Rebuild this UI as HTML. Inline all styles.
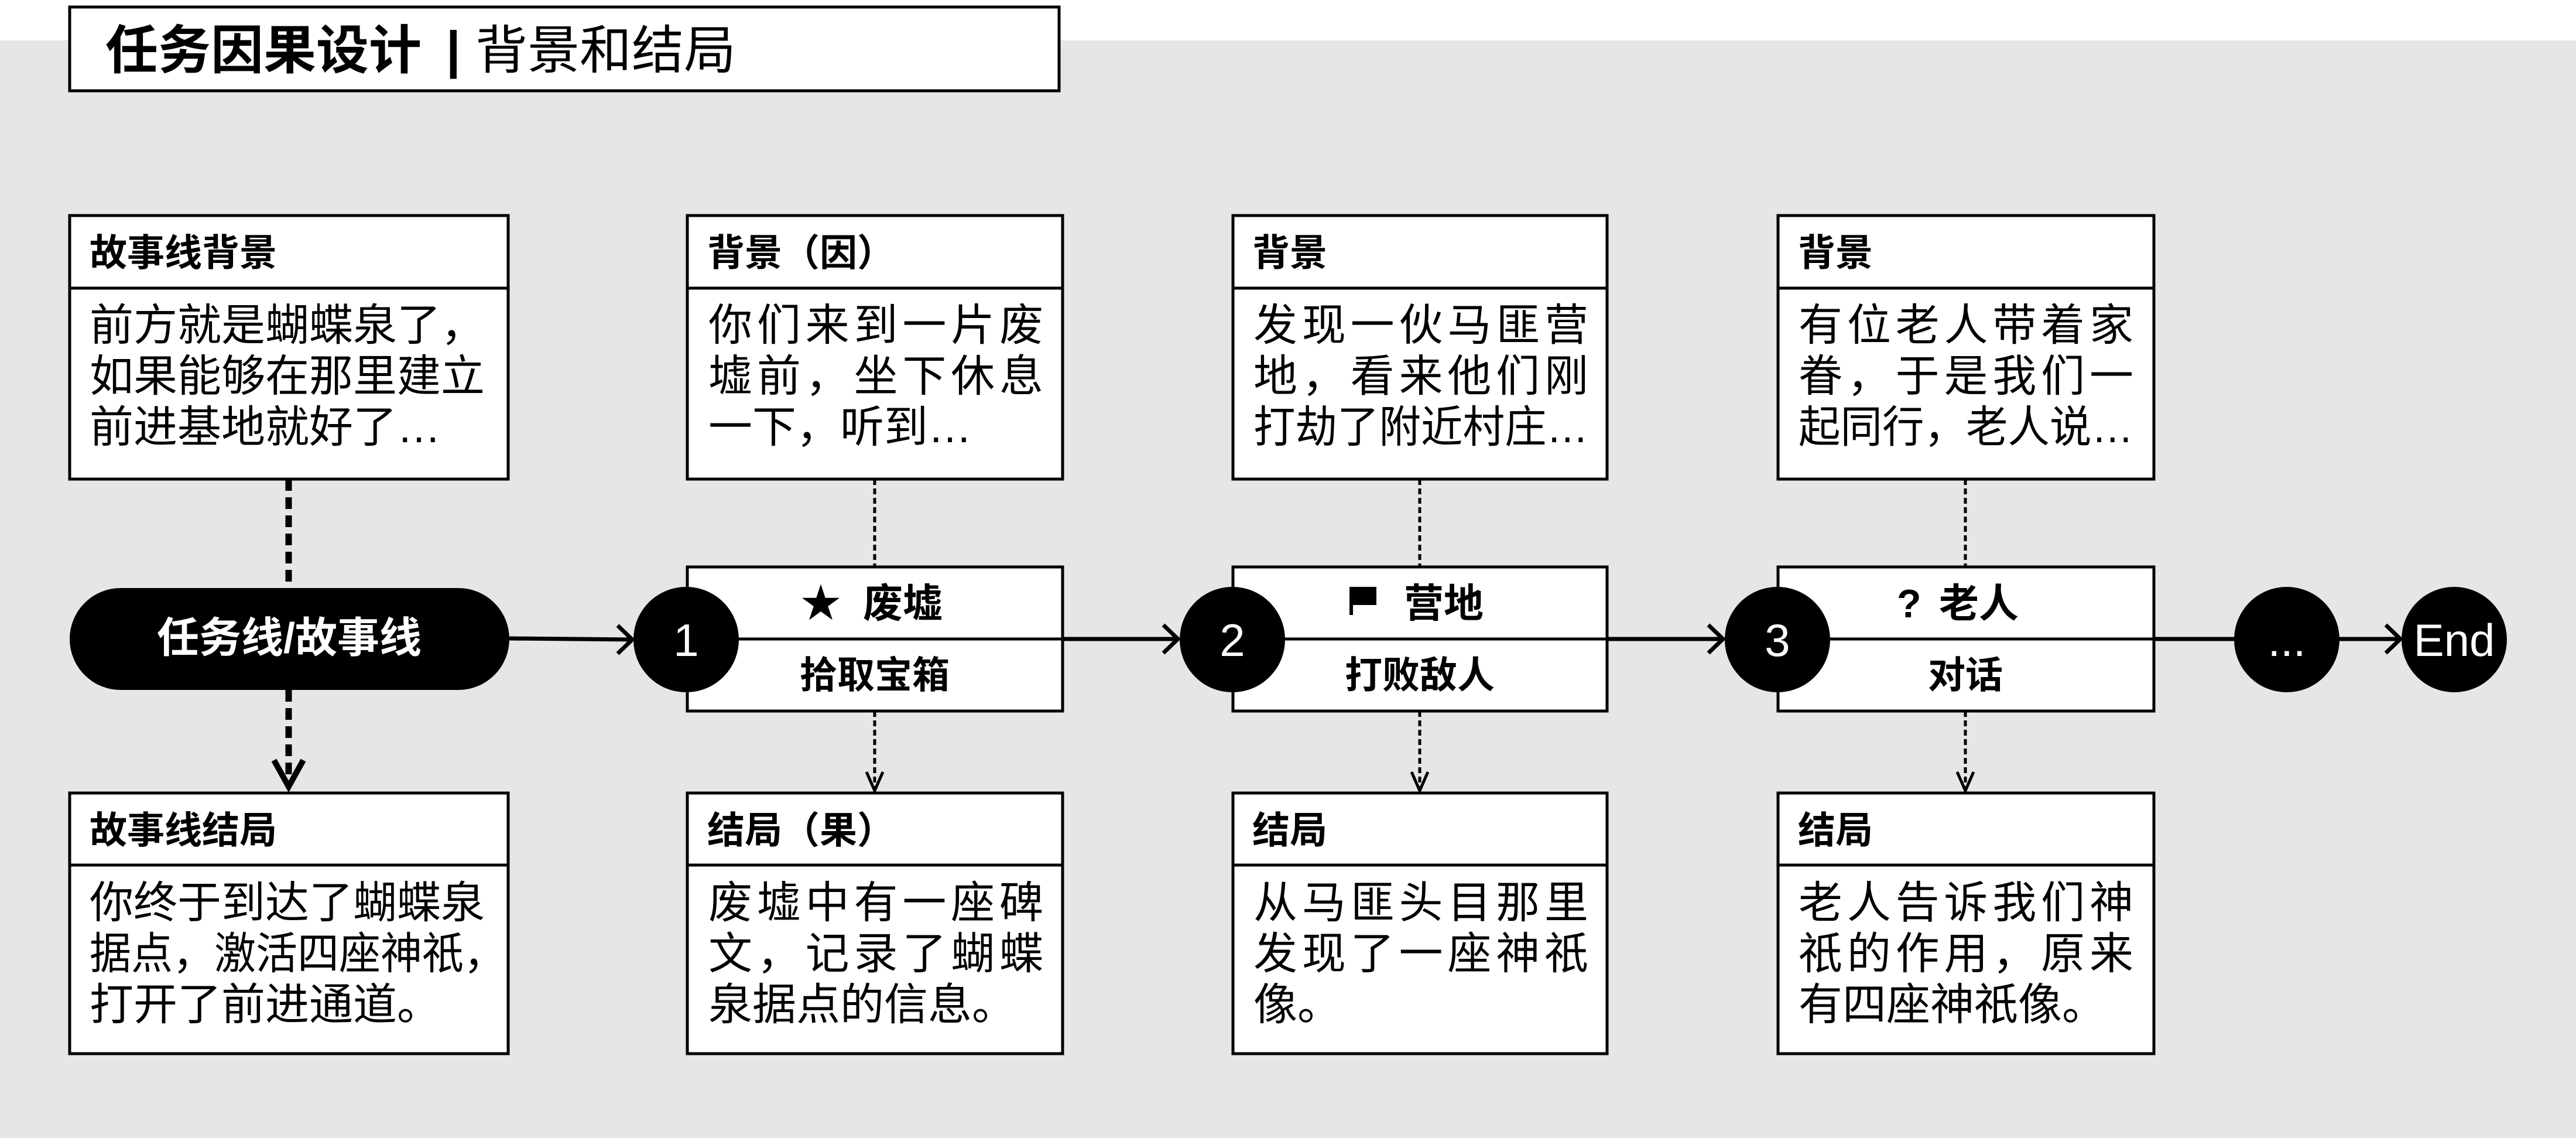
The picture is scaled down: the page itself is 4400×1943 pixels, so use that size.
<!DOCTYPE html>
<html><head><meta charset="utf-8"><style>
html,body{margin:0;padding:0;background:#fff}
svg{display:block}
text{font-family:"Liberation Sans","Noto Sans CJK SC",sans-serif}
.h{font-size:64px;font-weight:bold}
.t{font-size:68px;font-weight:bold}
.b{font-size:75px}
</style></head><body>
<svg width="4400" height="1943" viewBox="0 0 4400 1943" xmlns="http://www.w3.org/2000/svg">
<rect x="0" y="0" width="4400" height="1943" fill="#fff"/>
<rect x="0" y="69" width="4400" height="1874" fill="#e6e6e6"/>
<!-- title -->
<rect x="119" y="12" width="1690" height="143" fill="#fff" stroke="#000" stroke-width="5"/>
<text x="180" y="117" font-size="90" font-weight="bold">任务因果设计</text>
<text x="762" y="115" font-size="88" font-weight="bold">|</text>
<text x="812" y="117" font-size="89">背景和结局</text>

<!-- connectors vertical col1 thick dotted -->
<line x1="493" y1="818" x2="493" y2="1004" stroke="#000" stroke-width="11" stroke-dasharray="20 11"/>
<line x1="493" y1="1178" x2="493" y2="1335" stroke="#000" stroke-width="11" stroke-dasharray="20 11"/>
<polyline points="468,1298 493,1343 518,1298" fill="none" stroke="#000" stroke-width="10"/>
<!-- thin dashed -->
<g stroke="#000" stroke-width="5" fill="none">
<line x1="1494" y1="818" x2="1494" y2="968" stroke-dasharray="10 6"/>
<line x1="1494" y1="1214" x2="1494" y2="1350" stroke-dasharray="10 6"/>
<polyline points="1480,1318 1494,1350 1508,1318"/>
<line x1="2425" y1="818" x2="2425" y2="968" stroke-dasharray="10 6"/>
<line x1="2425" y1="1214" x2="2425" y2="1350" stroke-dasharray="10 6"/>
<polyline points="2411,1318 2425,1350 2439,1318"/>
<line x1="3357" y1="818" x2="3357" y2="968" stroke-dasharray="10 6"/>
<line x1="3357" y1="1214" x2="3357" y2="1350" stroke-dasharray="10 6"/>
<polyline points="3343,1318 3357,1350 3371,1318"/>
</g>

<!-- main horizontal arrows -->
<g stroke="#000" stroke-width="7" fill="none">
<line x1="870" y1="1090" x2="1080" y2="1092"/>
<polyline points="1055,1068 1080,1092 1055,1116"/>
<line x1="1815" y1="1091" x2="2012" y2="1091"/>
<polyline points="1987,1067 2012,1091 1987,1115"/>
<line x1="2745" y1="1091" x2="2943" y2="1091"/>
<polyline points="2918,1067 2943,1091 2918,1115"/>
<line x1="3679" y1="1091" x2="3818" y2="1091"/>
<line x1="3994" y1="1091" x2="4100" y2="1091"/>
<polyline points="4075,1067 4100,1091 4075,1115"/>
</g>

<!-- boxes -->
<g fill="#fff" stroke="#000" stroke-width="5">
<rect x="119" y="368" width="749" height="450"/>
<rect x="1174" y="368" width="641" height="450"/>
<rect x="2106" y="368" width="639" height="450"/>
<rect x="3037" y="368" width="642" height="450"/>
<rect x="119" y="1354" width="749" height="445"/>
<rect x="1174" y="1354" width="641" height="445"/>
<rect x="2106" y="1354" width="639" height="445"/>
<rect x="3037" y="1354" width="642" height="445"/>
<rect x="1174" y="968" width="641" height="246"/>
<rect x="2106" y="968" width="639" height="246"/>
<rect x="3037" y="968" width="642" height="246"/>
</g>
<g stroke="#000" stroke-width="5">
<line x1="119" y1="492" x2="868" y2="492"/><line x1="1174" y1="492" x2="1815" y2="492"/><line x1="2106" y1="492" x2="2745" y2="492"/><line x1="3037" y1="492" x2="3679" y2="492"/>
<line x1="119" y1="1477" x2="868" y2="1477"/><line x1="1174" y1="1477" x2="1815" y2="1477"/><line x1="2106" y1="1477" x2="2745" y2="1477"/><line x1="3037" y1="1477" x2="3679" y2="1477"/>
<line x1="1174" y1="1091" x2="1815" y2="1091"/><line x1="2106" y1="1091" x2="2745" y2="1091"/><line x1="3037" y1="1091" x2="3679" y2="1091"/>
</g>

<!-- headers -->
<text class="h" x="153" y="454">故事线背景</text>
<text class="h" x="1208" y="454">背景（因）</text>
<text class="h" x="2139" y="454">背景</text>
<text class="h" x="3071" y="454">背景</text>
<text class="h" x="153" y="1440">故事线结局</text>
<text class="h" x="1208" y="1440">结局（果）</text>
<text class="h" x="2139" y="1440">结局</text>
<text class="h" x="3071" y="1440">结局</text>

<!-- body top -->
<text class="b" x="153" y="581">前方就是蝴蝶泉了，</text>
<text class="b" x="153" y="668">如果能够在那里建立</text>
<text class="b" x="153" y="755">前进基地就好了…</text>
<text class="b" x="1210" y="581" textLength="572" lengthAdjust="spacing">你们来到一片废</text>
<text class="b" x="1210" y="668" textLength="572" lengthAdjust="spacing">墟前，坐下休息</text>
<text class="b" x="1210" y="755">一下，听到…</text>
<text class="b" x="2141" y="581" textLength="572" lengthAdjust="spacing">发现一伙马匪营</text>
<text class="b" x="2141" y="668" textLength="572" lengthAdjust="spacing">地，看来他们刚</text>
<text class="b" x="2141" y="755" textLength="572" lengthAdjust="spacingAndGlyphs">打劫了附近村庄…</text>
<text class="b" x="3072" y="581" textLength="572" lengthAdjust="spacing">有位老人带着家</text>
<text class="b" x="3072" y="668" textLength="572" lengthAdjust="spacing">眷，于是我们一</text>
<text class="b" x="3072" y="755" textLength="572" lengthAdjust="spacingAndGlyphs">起同行，老人说…</text>

<!-- body bottom -->
<text class="b" x="153" y="1567">你终于到达了蝴蝶泉</text>
<text class="b" x="153" y="1654" textLength="710" lengthAdjust="spacingAndGlyphs">据点，激活四座神祇，</text>
<text class="b" x="153" y="1741">打开了前进通道。</text>
<text class="b" x="1210" y="1567" textLength="572" lengthAdjust="spacing">废墟中有一座碑</text>
<text class="b" x="1210" y="1654" textLength="572" lengthAdjust="spacing">文，记录了蝴蝶</text>
<text class="b" x="1210" y="1741">泉据点的信息。</text>
<text class="b" x="2141" y="1567" textLength="572" lengthAdjust="spacing">从马匪头目那里</text>
<text class="b" x="2141" y="1654" textLength="572" lengthAdjust="spacing">发现了一座神祇</text>
<text class="b" x="2141" y="1741">像。</text>
<text class="b" x="3072" y="1567" textLength="572" lengthAdjust="spacing">老人告诉我们神</text>
<text class="b" x="3072" y="1654" textLength="572" lengthAdjust="spacing">祇的作用，原来</text>
<text class="b" x="3072" y="1741">有四座神祇像。</text>

<!-- middle box titles -->
<text class="t" x="1368" y="1054">★</text>
<text class="t" x="1474" y="1054">废墟</text>
<text class="h" x="1494" y="1175" text-anchor="middle">拾取宝箱</text>
<path d="M2308 1003 L2308 1050 M2308 1005 L2348 1005 L2348 1030 L2308 1030 Z" stroke="#000" stroke-width="6" fill="#000"/>
<text class="t" x="2398" y="1054">营地</text>
<text class="h" x="2425" y="1175" text-anchor="middle">打败敌人</text>
<text class="t" x="3240" y="1054">?</text>
<text class="t" x="3312" y="1054">老人</text>
<text class="h" x="3357" y="1175" text-anchor="middle">对话</text>

<!-- pill -->
<rect x="119" y="1004" width="751" height="174" rx="87" fill="#000"/>
<text x="494" y="1114" font-size="72" font-weight="bold" fill="#fff" text-anchor="middle">任务线/故事线</text>

<!-- circles -->
<g fill="#000">
<circle cx="1172" cy="1092" r="90"/>
<circle cx="2105" cy="1092" r="90"/>
<circle cx="3036" cy="1092" r="90"/>
<circle cx="3906" cy="1092" r="90"/>
<circle cx="4192" cy="1092" r="90"/>
</g>
<g fill="#fff" font-size="78" text-anchor="middle">
<text x="1172" y="1120">1</text>
<text x="2105" y="1120">2</text>
<text x="3036" y="1120">3</text>
<text x="3906" y="1120">...</text>
<text x="4192" y="1120">End</text>
</g>
</svg>
</body></html>
